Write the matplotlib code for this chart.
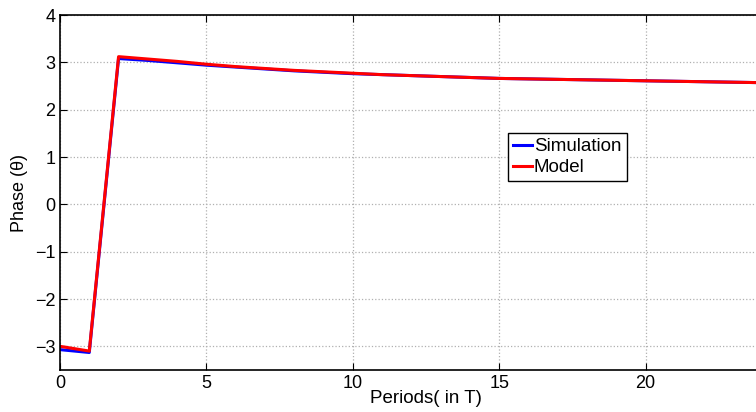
import matplotlib
matplotlib.use('Agg')
import matplotlib.pyplot as plt

periods = list(range(26))
simulation = [-3.07, -3.13, 3.08, 3.04, 2.99, 2.94, 2.90, 2.86, 2.82, 2.79,
              2.76, 2.74, 2.72, 2.70, 2.68, 2.66, 2.65, 2.64, 2.63, 2.62,
              2.61, 2.60, 2.59, 2.58, 2.57, 2.56]
model = [-3.00, -3.10, 3.12, 3.07, 3.02, 2.96, 2.91, 2.87, 2.83, 2.80,
         2.77, 2.74, 2.72, 2.70, 2.68, 2.66, 2.65, 2.64, 2.63, 2.62,
         2.61, 2.60, 2.59, 2.58, 2.57, 2.56]
xticks = [0, 5, 10, 15, 20]
yticks = [-3, -2, -1, 0, 1, 2, 3, 4]

plt.rcParams['font.family'] = ['Liberation Sans', 'DejaVu Sans']

fig = plt.figure(figsize=(7.56, 4.12), dpi=100)
# axes run past the right edge of the picture, as in the reference
ax = fig.add_axes([60 / 756, 42 / 412, 732 / 756, 355 / 412])

ax.plot(periods, simulation, color='#0000ff', lw=2.2, label='Simulation')
ax.plot(periods, model, color='#ff0000', lw=2.2, label='Model')

ax.set_xlim(0, 25)
ax.set_ylim(-3.5, 4)
ax.set_xticks(xticks)
ax.set_yticks(yticks)
ax.grid(True, linestyle=':', color='#b0b0b0', lw=0.9)
ax.tick_params(direction='in', top=True, right=True, labelsize=13, length=5)
for s in ax.spines.values():
    s.set_linewidth(1.2)

ax.set_xlabel('Periods( in T)', fontsize=13.5, labelpad=-1)
ax.set_ylabel('Phase (θ)', fontsize=13, labelpad=5)

leg = ax.legend(loc='upper left', bbox_to_anchor=(0.612, 0.668), fontsize=13.5,
                fancybox=False, framealpha=1, edgecolor='black',
                handlelength=1.0, handletextpad=0.1, borderpad=0.28,
                labelspacing=0.2, borderaxespad=0)
leg.get_frame().set_linewidth(1.0)

fig.savefig('out.png', dpi=100)
